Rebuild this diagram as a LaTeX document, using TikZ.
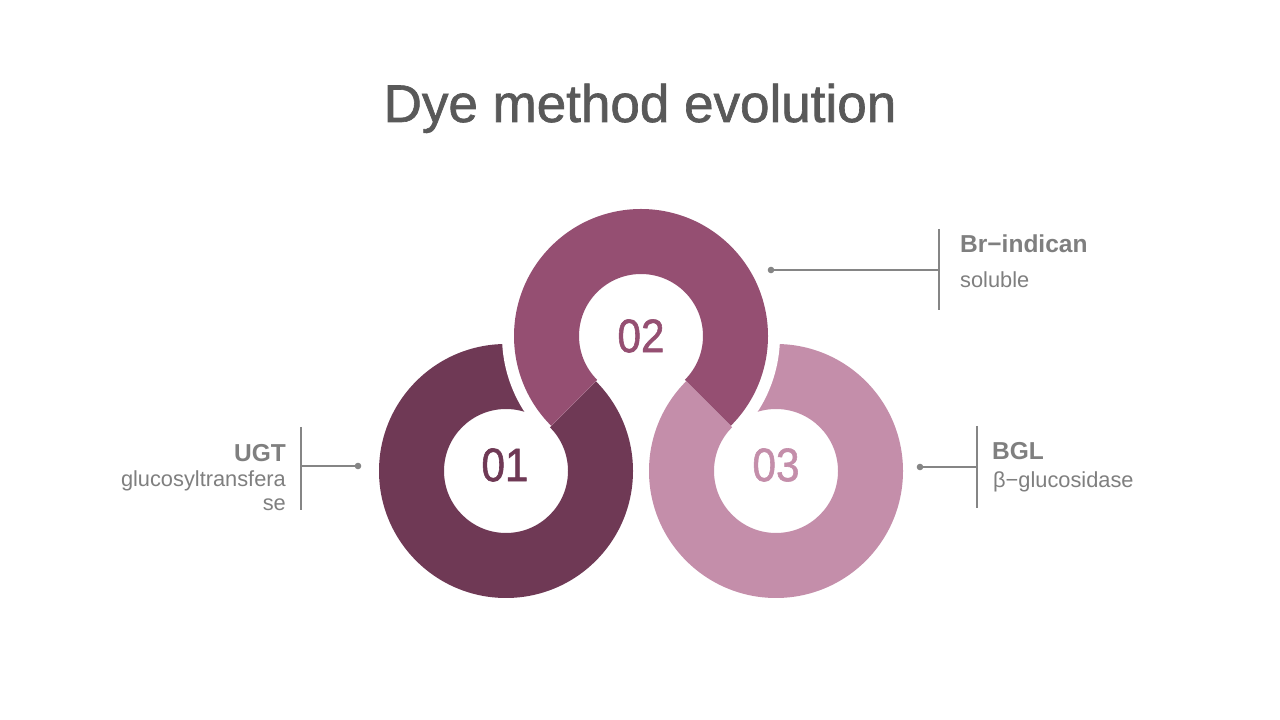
\documentclass[tikz,border=0pt]{standalone}
\usepackage{fontspec}
\setmainfont{Liberation Sans}
\newfontfamily\titlefont[FakeBold=1.2]{Liberation Sans}
\newfontfamily\numfont[FakeBold=1.3]{Liberation Sans}
\usetikzlibrary{calc}
\definecolor{ringA}{HTML}{6F3955}
\definecolor{ringB}{HTML}{954F72}
\definecolor{ringC}{HTML}{C48EAA}
\definecolor{titlegray}{HTML}{595959}
\definecolor{labelgray}{HTML}{7F7F7F}
\definecolor{linegray}{HTML}{858585}
\begin{document}
\begin{tikzpicture}[x=1pt,y=1pt,
  titletext/.style={inner sep=0pt, text=titlegray, font=\titlefont\fontsize{53}{60}\selectfont},
  numtext/.style={inner sep=0pt, font=\numfont\fontsize{47}{54}\selectfont},
  headtext/.style={inner sep=0pt, text=labelgray, font=\bfseries\fontsize{24.5}{28}\selectfont},
  subtext/.style={inner sep=0pt, text=labelgray, font=\fontsize{21.8}{24}\selectfont},
  conn/.style={draw=linegray, line width=2pt},
  dotmark/.style={fill=linegray}
]
\fill[white] (0,0) rectangle (1280,720);
\useasboundingbox (0,0) rectangle (1280,720);

% title
\node[titletext, anchor=base] (title) at (640,598) {Dye method evolution};

% ring centres
\coordinate (c1) at (506,249);
\coordinate (c2) at (641,384);
\coordinate (c3) at (776,249);

% rings 1 and 3
\fill[ringA, even odd rule] (c1) circle[radius=127] (c1) circle[radius=62];
\fill[ringC, even odd rule] (c3) circle[radius=127] (c3) circle[radius=62];
% gaps where ring 2 passes over
\fill[white] (c2) -- ++(45:139) arc[start angle=45, end angle=225, radius=139] -- cycle;
\fill[white] (c2) -- ++(-45:139) arc[start angle=-45, end angle=135, radius=139] -- cycle;
% ring 2
\fill[ringB] ($(c2)+(-45:127)$) arc[start angle=-45, end angle=225, radius=127]
  -- ($(c2)+(225:62)$) arc[start angle=225, end angle=-45, radius=62] -- cycle;

% numbers
\node[numtext, text=ringA] (n1) at (505,255) {\scalebox{0.9}[1]{01}};
\node[numtext, text=ringB] (n2) at (641,384) {\scalebox{0.9}[1]{02}};
\node[numtext, text=ringC] (n3) at (776,255) {\scalebox{0.9}[1]{03}};

% top-right label
\coordinate (d2) at (771,450);
\coordinate (b2) at (939,450);
\coordinate (b2t) at (939,491);
\coordinate (b2b) at (939,410);
\draw[conn] (d2) -- (b2);
\draw[conn] (b2t) -- (b2b);
\fill[dotmark] (d2) circle[radius=3.3];
\node[headtext, anchor=base west] (h2) at (960,467) {Br−indican};
\node[subtext, anchor=base west] (s2) at (960,432) {soluble};

% bottom-right label
\coordinate (d3) at (920,253);
\coordinate (b3) at (977,253);
\coordinate (b3t) at (977,294);
\coordinate (b3b) at (977,212);
\draw[conn] (d3) -- (b3);
\draw[conn] (b3t) -- (b3b);
\fill[dotmark] (d3) circle[radius=3.3];
\node[headtext, anchor=base west] (h3) at (992,260) {BGL};
\node[subtext, anchor=base west] (s3) at (993,232) {β−glucosidase};

% left label
\coordinate (d1) at (358,254);
\coordinate (b1) at (301,254);
\coordinate (b1t) at (301,293);
\coordinate (b1b) at (301,210);
\draw[conn] (d1) -- (b1);
\draw[conn] (b1t) -- (b1b);
\fill[dotmark] (d1) circle[radius=3.3];
\node[headtext, anchor=base east] (h1) at (286,258) {UGT};
\node[subtext, anchor=base east] (s1a) at (286,233) {glucosyltransfera};
\node[subtext, anchor=base east] (s1b) at (286,209) {se};
\end{tikzpicture}
\end{document}
